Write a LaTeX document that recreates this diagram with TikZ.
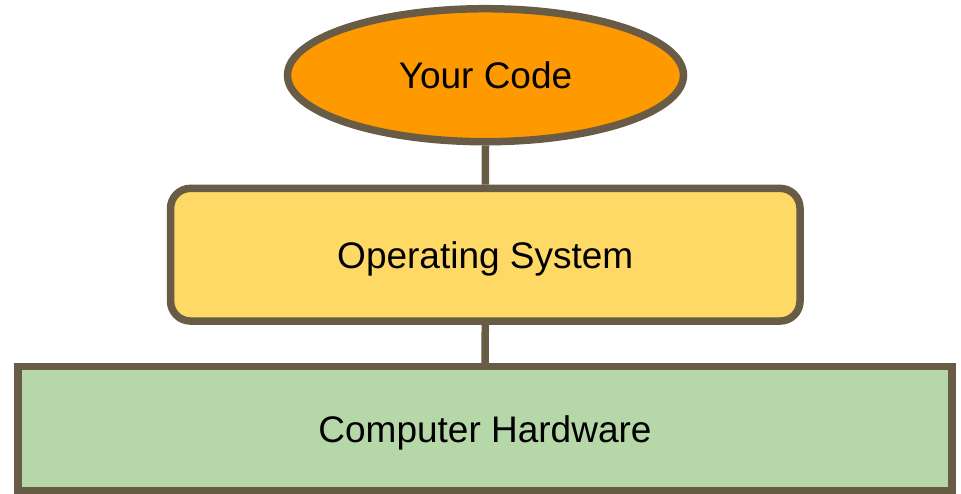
\documentclass[tikz,border=0pt]{standalone}
\usepackage{fontspec}
\setmainfont{Liberation Sans}
\usetikzlibrary{shapes.geometric}
\definecolor{edgebrown}{HTML}{695C47}
\definecolor{codeorange}{HTML}{FF9900}
\definecolor{osyellow}{HTML}{FFD966}
\definecolor{hwgreen}{HTML}{B6D7A8}
\begin{document}
\begin{tikzpicture}[x=1pt,y=-1pt,
  layer/.style={draw=edgebrown,line width=7.5pt,inner sep=0pt,text depth=0pt,
    font=\fontsize{37}{44}\selectfont},
  link/.style={draw=edgebrown,line width=7.5pt}]
\useasboundingbox (0,0) rectangle (961,493);
\node [layer,ellipse,fill=codeorange,minimum width=396pt,minimum height=133pt] (code) at (485.5,75.2) {Your Code};
\node [layer,rectangle,rounded corners=20pt,fill=osyellow,minimum width=629.5pt,minimum height=132.7pt] (os) at (485.3,254.7) {Operating System};
\node [layer,rectangle,fill=hwgreen,minimum width=934pt,minimum height=123.8pt] (hw) at (485,428.6) {Computer Hardware};
\draw [link] (code.south) -- (os.north);
\draw [link] (os.south) -- (hw.north);
\end{tikzpicture}
\end{document}
